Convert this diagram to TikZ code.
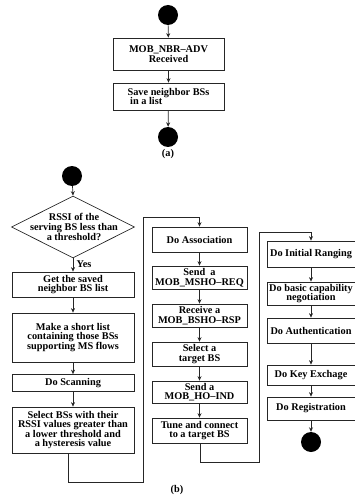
\documentclass[tikz,border=0pt]{standalone}
\usepackage{fontspec}
\setmainfont{Liberation Serif}
\usetikzlibrary{arrows.meta,shapes.geometric}
\begin{document}
\begin{tikzpicture}[x=1pt,y=-1pt,
  every node/.style={font=\bfseries\fontsize{10.3}{9.6}\selectfont},
  box/.style={draw=black!85,line width=0.7pt,rectangle,inner sep=1pt,align=center},
  dot/.style={circle,fill=black,minimum size=20pt,inner sep=0pt},
  arr/.style={-{Stealth[length=4.5pt,width=4pt]},line width=0.7pt,draw=black!85},
  ln/.style={line width=0.7pt,draw=black!85}]
\useasboundingbox (0,0) rectangle (355,497);
% (a)
\node[dot] (a0) at (168,15) {};
\node[box,minimum width=111pt,minimum height=32pt] (a1) at (168.5,54) {MOB\_NBR--ADV\\Received};
\node[box,minimum width=111pt,minimum height=27pt,align=left] (a2) at (168.5,96.5) {Save neighbor BSs\\\ in a list};
\node[dot] (a3) at (168,137) {};
\node (la) at (168,154) {(a)};
\draw[arr] (a0) -- (a1);
\draw[arr] (a1) -- (a2);
\draw[arr] (a2) -- (a3);
% (b) column 1
\node[dot] (b0) at (72,176) {};
\node[diamond,draw=black!85,line width=0.7pt,minimum width=123pt,minimum height=62pt,inner sep=0pt] (dec) at (73,227) {};
\node[align=center] (dect) at (74,227) {RSSI of the\\serving BS less than\\a threshold?};
\node (yes) at (84,264) {Yes};
\node[box,minimum width=122pt,minimum height=25pt] (b1) at (73,284.5) {Get the saved\\neighbor BS list};
\node[box,minimum width=122pt,minimum height=49pt] (b2) at (73,337.5) {Make a short list\\containing those BSs\\supporting MS flows};
\node[box,minimum width=122pt,minimum height=17pt] (b3) at (73,383) {Do Scanning};
\node[box,minimum width=122pt,minimum height=46pt] (b4) at (73,430) {Select BSs with their\\RSSI values greater than\\a lower threshold and\\a hysteresis value};
\draw[arr] (b0) -- (dec.north);
\draw[arr] (dec.south) -- (b1);
\draw[arr] (b1) -- (b2);
\draw[arr] (b2) -- (b3);
\draw[arr] (b3) -- (b4);
% column 2
\node[box,minimum width=95pt,minimum height=25pt] (c1) at (199.5,239.5) {Do Association};
\node[box,minimum width=95pt,minimum height=23pt] (c2) at (199.5,277.5) {Send~~a\\MOB\_MSHO--REQ};
\node[box,minimum width=95pt,minimum height=23pt] (c3) at (199.5,315.5) {Receive a\\MOB\_BSHO--RSP};
\node[box,minimum width=95pt,minimum height=24pt] (c4) at (199.5,354) {Select a\\target BS};
\node[box,minimum width=95pt,minimum height=22pt] (c5) at (199.5,392) {Send a\\MOB\_HO--IND};
\node[box,minimum width=95pt,minimum height=25pt] (c6) at (199.5,430.5) {Tune and connect\\to a target BS};
\draw[arr] (c1) -- (c2);
\draw[arr] (c2) -- (c3);
\draw[arr] (c3) -- (c4);
\draw[arr] (c4) -- (c5);
\draw[arr] (c5) -- (c6);
% column 3
\node[box,minimum width=88pt,minimum height=26pt] (d1) at (311,254) {Do Initial Ranging};
\node[box,minimum width=88pt,minimum height=23pt] (d2) at (311,293.5) {Do basic capability\\negotiation};
\node[box,minimum width=88pt,minimum height=25pt] (d3) at (311,330.5) {Do Authentication};
\node[box,minimum width=88pt,minimum height=20pt] (d4) at (311,375) {Do Key Exchage};
\node[box,minimum width=88pt,minimum height=23pt] (d5) at (311,408.5) {Do Registration};
\node[dot] (d6) at (311,442) {};
\draw[arr] (d1) -- (d2);
\draw[arr] (d2) -- (d3);
\draw[arr] (d3) -- (d4);
\draw[arr] (d4) -- (d5);
\draw[arr] (d5) -- (d6);
% loop connectors
\coordinate (p1) at (68,482);
\coordinate (p2) at (143,482);
\coordinate (p3) at (143,217);
\coordinate (p4) at (199.5,217);
\draw[ln] (b4.south -| p1) -- (p1) -- (p2) -- (p3) -- (p4);
\draw[arr] (p4) -- (c1.north);
\coordinate (q1) at (200,462);
\coordinate (q2) at (259,462);
\coordinate (q3) at (259,232);
\coordinate (q4) at (311,232);
\draw[ln] (c6.south -| q1) -- (q1) -- (q2) -- (q3) -- (q4);
\draw[arr] (q4) -- (d1.north);
\node (lb) at (177,490) {(b)};
\end{tikzpicture}
\end{document}
